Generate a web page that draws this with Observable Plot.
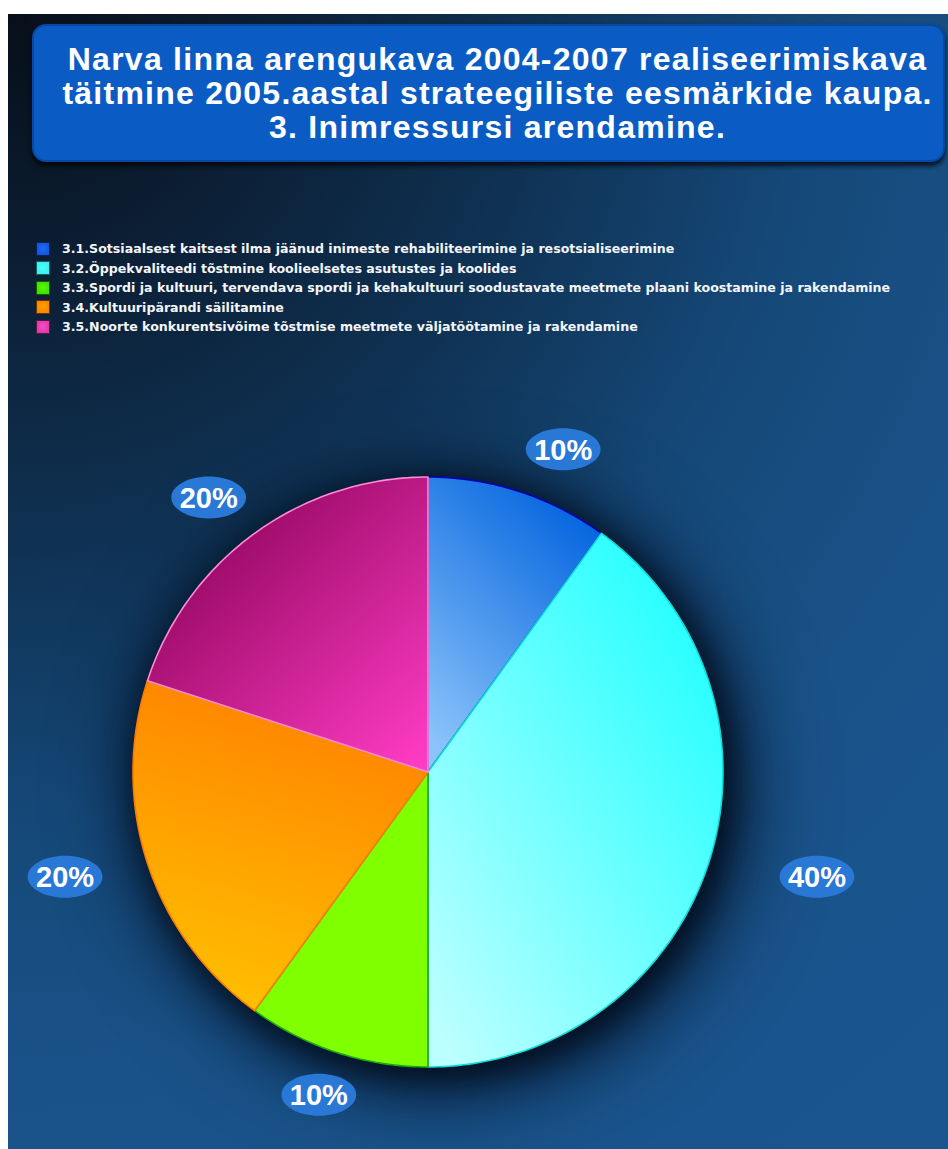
<!DOCTYPE html>
<html>
<head>
<meta charset="utf-8">
<script src="https://cdn.jsdelivr.net/npm/d3@7"></script>
<script src="https://cdn.jsdelivr.net/npm/@observablehq/plot@0.6"></script>
<style>
  html, body { margin: 0; padding: 0; background: #ffffff; }
  #panel {
    position: absolute; left: 8px; top: 14px; width: 940px; height: 1135px; overflow: hidden;
    background: radial-gradient(circle at 0px 0px, #070f19 0px, #0b1c30 220px, #0f3152 520px, #154878 800px, #195288 1050px, #1a5590 1400px);
  }
  #title {
    position: absolute; left: 24px; top: 10px; width: 891px; height: 134px; padding-left: 18px;
    background: #0a5cc4; border: 2px solid #0848a0; border-radius: 14px;
    box-shadow: 0 4px 5px rgba(0,0,0,0.75);
    color: #ffffff; font-family: "Liberation Sans", Arial, sans-serif; font-weight: bold;
    font-size: 32px; line-height: 34px; letter-spacing: 1.25px; text-align: center;
    display: flex; flex-direction: column; justify-content: center;
  }
  #legend {
    position: absolute; left: 28px; top: 225px;
    font-family: "DejaVu Sans", Verdana, sans-serif; font-weight: bold; font-size: 12.6px; color: #f4f6fa;
  }
  .item { height: 19.5px; display: flex; align-items: center; white-space: nowrap; }
  .sw { width: 12px; height: 12px; margin-right: 12px; border: 1px solid rgba(0,0,0,0.6); }
  #chart { position: absolute; left: 0px; top: 331px; }
</style>
</head>
<body>
<div id="panel">
  <div id="title"></div>
  <div id="legend"></div>
  <div id="chart"></div>
</div>
<script>
// ---- data ----
const titleLines = [
  "Narva linna arengukava 2004-2007 realiseerimiskava",
  "täitmine 2005.aastal strateegiliste eesmärkide kaupa.",
  "3. Inimressursi arendamine."
];
const categories = [
  "3.1.Sotsiaalsest kaitsest ilma jäänud inimeste rehabiliteerimine ja resotsialiseerimine",
  "3.2.Öppekvaliteedi tõstmine koolieelsetes asutustes ja koolides",
  "3.3.Spordi ja kultuuri, tervendava spordi ja kehakultuuri soodustavate meetmete plaani koostamine ja rakendamine",
  "3.4.Kultuuripärandi säilitamine",
  "3.5.Noorte konkurentsivõime tõstmise meetmete väljatöötamine ja rakendamine"
];
const shares = [10, 40, 10, 20, 20];
const shareLabels = ["10%", "40%", "10%", "20%", "20%"];

// ---- palette (styles) ----
const gradientStops = [
  {x1: 0.75, y1: 0, x2: 0.2, y2: 1, c0: "#0062de", c1: "#8cc4fa"},
  {x1: 1, y1: 0.05, x2: 0.1, y2: 1, c0: "#14ffff", c1: "#bcffff"},
  {x1: 0, y1: 0, x2: 0, y2: 1, c0: "#80ff00", c1: "#80ff00"},
  {x1: 0.6, y1: 0, x2: 0.35, y2: 1, c0: "#ff8000", c1: "#ffc000"},
  {x1: 0.1, y1: 0.05, x2: 0.95, y2: 1, c0: "#860054", c1: "#ff3cc4"}
];
const fillUrls = gradientStops.map((g, i) => `url(#slice${i})`);
const edgeColors = ["#0000b4", "#10dcdc", "#18a818", "#ff7a00", "#ff8cd8"];
const swatchColors = ["#1656dc", "#3cf0f0", "#44e000", "#ff8400", "#de3ca8"];
const labelFill = "#2a78d6";

// ---- HTML title & legend ----
const titleEl = document.getElementById("title");
titleLines.forEach(t => { const d = document.createElement("div"); d.textContent = t; titleEl.appendChild(d); });
const legendEl = document.getElementById("legend");
categories.forEach((c, i) => {
  const it = document.createElement("div"); it.className = "item";
  const sw = document.createElement("div"); sw.className = "sw";
  sw.style.background = `radial-gradient(circle at 50% 45%, ${d3.color(swatchColors[i]).brighter(0.6)} 0%, ${swatchColors[i]} 70%)`;
  const tx = document.createElement("span"); tx.textContent = c;
  it.appendChild(sw); it.appendChild(tx); legendEl.appendChild(it);
});

// ---- pie geometry from the data ----
const total = d3.sum(shares);
const ends = d3.cumsum(shares);
const slicePts = [];
const labelPts = [];
shares.forEach((v, i) => {
  const a0 = (ends[i] - v) / total * 2 * Math.PI;
  const a1 = ends[i] / total * 2 * Math.PI;
  slicePts.push({cat: categories[i], x: 0, y: 0, i});
  const n = Math.max(2, Math.ceil((a1 - a0) / (Math.PI / 180)));
  for (let k = 0; k <= n; k++) {
    const a = a0 + (a1 - a0) * k / n;
    slicePts.push({cat: categories[i], x: Math.sin(a), y: Math.cos(a), i});
  }
  const am = (a0 + a1) / 2;
  labelPts.push({label: shareLabels[i], x: 1.34 * Math.sin(am), y: 1.15 * Math.cos(am)});
});

const ellipseSymbol = {
  draw(ctx, size) {
    const ry = Math.sqrt(size / Math.PI), rx = ry * 1.78;
    const kx = rx * 0.5523, ky = ry * 0.5523;
    ctx.moveTo(rx, 0);
    ctx.bezierCurveTo(rx, ky, kx, ry, 0, ry);
    ctx.bezierCurveTo(-kx, ry, -rx, ky, -rx, 0);
    ctx.bezierCurveTo(-rx, -ky, -kx, -ry, 0, -ry);
    ctx.bezierCurveTo(kx, -ry, rx, -ky, rx, 0);
    ctx.closePath();
  }
};

const R = 295, CX = 419.5, CY = 426.5;
const svg = Plot.plot({
  width: 940,
  height: 804,
  margin: 0,
  style: {background: "transparent", overflow: "visible"},
  x: {domain: [-1, 1], range: [CX - R, CX + R], axis: null},
  y: {domain: [-1, 1], range: [CY + R, CY - R], axis: null},
  color: {type: "ordinal", domain: categories, range: fillUrls},
  marks: [
    Plot.line(slicePts, {
      x: "x", y: "y", z: "cat", fill: "cat",
      stroke: d => edgeColors[d.i], strokeWidth: 1.6, strokeLinejoin: "round",
      curve: "linear-closed"
    }),
    Plot.dot(labelPts, {x: "x", y: "y", dx: 13, r: 21, symbol: ellipseSymbol, fill: labelFill, stroke: "none"}),
    Plot.text(labelPts, {
      x: "x", y: "y", dx: 13, dy: 1, text: "label", fill: "white", fontSize: 29, fontWeight: "bold",
      fontFamily: "Liberation Sans, Arial, sans-serif"
    })
  ]
});

// gradient definitions for slice fills
const defs = d3.select(svg).insert("defs", ":first-child");
gradientStops.forEach((g, i) => {
  const lg = defs.append("linearGradient").attr("id", `slice${i}`)
    .attr("x1", g.x1).attr("y1", g.y1).attr("x2", g.x2).attr("y2", g.y2);
  lg.append("stop").attr("offset", "0%").attr("stop-color", g.c0);
  lg.append("stop").attr("offset", "100%").attr("stop-color", g.c1);
});
d3.select(svg).select('g[aria-label="line"]')
  .style("filter", "drop-shadow(6px 8px 18px rgba(2,12,28,1)) drop-shadow(8px 10px 40px rgba(2,12,28,0.9))");

document.getElementById("chart").appendChild(svg);
</script>
</body>
</html>
